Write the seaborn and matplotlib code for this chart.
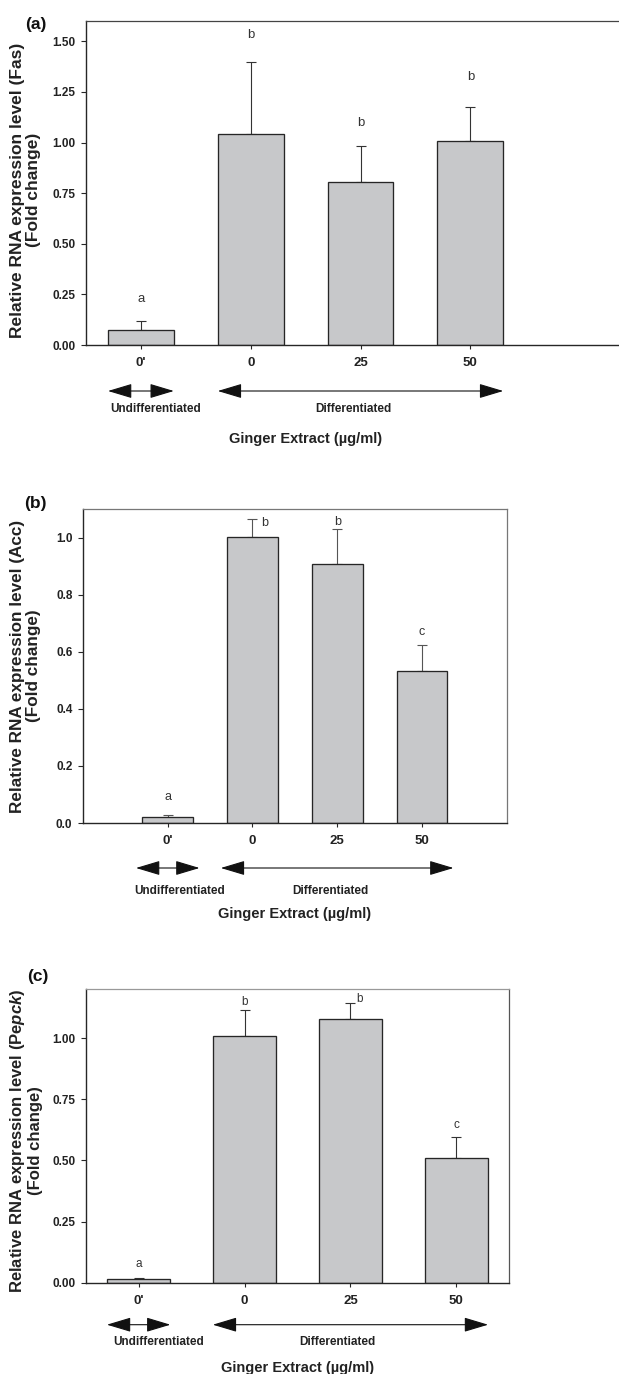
import matplotlib
matplotlib.use("Agg")
import matplotlib.pyplot as plt
import matplotlib.transforms as mtransforms
import seaborn as sns
import pandas as pd

# ---------------- data ----------------
categories = ["0'", "0", "25", "50"]

fas_mean = [0.074, 1.040, 0.807, 1.009]
fas_err = [0.043, 0.360, 0.177, 0.167]
fas_letters = ["a", "b", "b", "b"]

acc_mean = [0.021, 1.003, 0.908, 0.533]
acc_err = [0.006, 0.061, 0.123, 0.089]
acc_letters = ["a", "b", "b", "c"]

pepck_mean = [0.014, 1.009, 1.079, 0.511]
pepck_err = [0.006, 0.105, 0.067, 0.084]
pepck_letters = ["a", "b", "b", "c"]

group_labels = ["Undifferentiated", "Differentiated"]
xlabel_text = "Ginger Extract (\u00b5g/ml)"
ylabels = [
    "Relative RNA expression level (Fas)\n(Fold change)",
    "Relative RNA expression level (Acc)\n(Fold change)",
    "Relative RNA expression level (Pe$\\mathit{pck}$)\n(Fold change)",
]
panel_tags = ["(a)", "(b)", "(c)"]

# ---------------- style ----------------
sns.set_theme(style="white")
plt.rcParams["font.family"] = ["Liberation Sans", "DejaVu Sans"]
plt.rcParams["mathtext.fontset"] = "custom"
plt.rcParams["mathtext.it"] = "Liberation Sans:italic:bold"
plt.rcParams["mathtext.rm"] = "Liberation Sans:bold"
NARROW = ["Liberation Sans", "DejaVu Sans"]

W, H = 619, 1374
DPI = 100
fig = plt.figure(figsize=(W / DPI, H / DPI), dpi=DPI)
PT = 0.72  # points per pixel

BAR_COLOR = "#c7c8ca"
EDGE = "#262626"

panels = [
    dict(mean=fas_mean, err=fas_err, letters=fas_letters,
         box=(86, 21, 635, 345), xlim=(-0.5, 4.5), ylim=(0, 1.6),
         ticks=[0, 0.25, 0.5, 0.75, 1.0, 1.25, 1.5], fmt="{:.2f}",
         loff=[(0, 22), (0, 26), (0, 23), (0, 30)], lsize=9.5,
         arrows=[(-0.3, 0.3), (0.7, 3.3)], arrow_dy=46,
         gl_dy=64, gl_x=[0.138, 1.938], xl_dy=94,
         ylab_x=25.7, ylab_dy=7, ylab_size=12.5, tag=(36, 25),
         top="#444444", right=None, errc="#333333"),
    dict(mean=acc_mean, err=acc_err, letters=acc_letters,
         box=(83, 509, 506.7, 823), xlim=(-1, 4), ylim=(0, 1.1),
         ticks=[0, 0.2, 0.4, 0.6, 0.8, 1.0], fmt="{:.1f}",
         loff=[(0, 18), (11.7, -3.7), (0, 7), (0, 13)], lsize=9,
         arrows=[(-0.375, 0.375), (0.626, 3.372)], arrow_dy=45,
         gl_dy=68, gl_x=[0.145, 1.92], xl_dy=91,
         ylab_x=25.3, ylab_dy=0, ylab_size=12.3, tag=(35, 503),
         top="#777777", right="#777777", errc="#555555"),
    dict(mean=pepck_mean, err=pepck_err, letters=pepck_letters,
         box=(85.7, 989.3, 509.3, 1282.7), xlim=(-0.5, 3.5), ylim=(0, 1.2),
         ticks=[0, 0.25, 0.5, 0.75, 1.0], fmt="{:.2f}",
         loff=[(0, 14), (0, 8), (9, 4), (0, 12.6)], lsize=8.5,
         arrows=[(-0.3, 0.3), (0.7, 3.3)], arrow_dy=42,
         gl_dy=59, gl_x=[0.192, 1.876], xl_dy=85,
         ylab_x=25.8, ylab_dy=5, ylab_size=12, tag=(38, 976),
         top="#999999", right="#555555", errc="#333333"),
]

for i, p in enumerate(panels):
    l, t, r, b = p["box"]
    ax = fig.add_axes([l / W, 1 - b / H, (r - l) / W, (b - t) / H])
    df = pd.DataFrame({"dose": categories, "value": p["mean"]})
    sns.barplot(data=df, x="dose", y="value", ax=ax, color=BAR_COLOR,
                saturation=1, edgecolor=EDGE, linewidth=0.95, width=0.6,
                errorbar=None, zorder=2)
    xs = list(range(len(categories)))
    ax.errorbar(xs, p["mean"], yerr=[[0] * len(xs), p["err"]], fmt="none",
                ecolor=p["errc"], elinewidth=0.8, capsize=3.6, capthick=0.8,
                zorder=1)
    ax.set_xlim(*p["xlim"])
    ax.set_ylim(*p["ylim"])
    ax.set_yticks(p["ticks"])
    ax.set_yticklabels([p["fmt"].format(v) for v in p["ticks"]])
    ax.set_xlabel("")

    # spines
    for s in ["left", "bottom"]:
        ax.spines[s].set_color(EDGE)
        ax.spines[s].set_linewidth(1.0)
    ax.spines["top"].set_color(p["top"])
    ax.spines["top"].set_linewidth(0.9)
    if p["right"] is None:
        ax.spines["right"].set_visible(False)
    else:
        ax.spines["right"].set_color(p["right"])
        ax.spines["right"].set_linewidth(0.9)

    ax.tick_params(axis="y", direction="out", length=3.6, width=0.8,
                   color=EDGE, pad=4.0, left=True)
    ax.tick_params(axis="x", direction="out", length=3.0, width=0.8,
                   color=EDGE, pad=6.0, bottom=True)
    for lab in ax.get_yticklabels():
        lab.set_fontfamily(NARROW)
        lab.set_fontweight("bold")
        lab.set_fontsize(8.5)
        lab.set_color("#222222")
    for lab in ax.get_xticklabels():
        lab.set_fontfamily(NARROW)
        lab.set_fontweight("bold")
        lab.set_fontsize(9.5)
        lab.set_color("#222222")

    # y label
    ax.set_ylabel(ylabels[i], fontsize=p["ylab_size"], fontweight="bold",
                  linespacing=1.1, color="#222222")
    ax.yaxis.label.set_va("center")
    ax.yaxis.label.set_multialignment("center")
    axw = r - l
    axh = b - t
    ax.yaxis.set_label_coords((p["ylab_x"] - l) / axw, 0.5 - p["ylab_dy"] / axh)

    # significance letters
    for j, (m, e, let) in enumerate(zip(p["mean"], p["err"], p["letters"])):
        dx, dy = p["loff"][j]
        ax.annotate(let, xy=(j, m + e), xytext=(dx * PT, dy * PT),
                    textcoords="offset points", ha="center", va="center",
                    fontsize=p["lsize"], color="#333333")

    # group arrows below the axis
    xt = ax.get_xaxis_transform()
    arrow_tr = mtransforms.offset_copy(xt, fig=fig, y=-p["arrow_dy"] * PT,
                                       units="points")
    for (x0, x1) in p["arrows"]:
        ax.annotate("", xy=(x1, 0), xytext=(x0, 0), xycoords=arrow_tr,
                    textcoords=arrow_tr, annotation_clip=False,
                    arrowprops=dict(arrowstyle="<|-|>,head_length=1.5,head_width=0.45",
                                    mutation_scale=10, lw=0.8, color="#111111",
                                    shrinkA=0, shrinkB=0))
    gl_tr = mtransforms.offset_copy(xt, fig=fig, y=-p["gl_dy"] * PT, units="points")
    for gx, gtxt in zip(p["gl_x"], group_labels):
        ax.text(gx, 0, gtxt, transform=gl_tr, ha="center", va="center",
                fontsize=8.5, fontweight="bold", family=NARROW,
                color="#222222", clip_on=False)
    xl_tr = mtransforms.offset_copy(xt, fig=fig, y=-p["xl_dy"] * PT, units="points")
    ax.text(1.5, 0, xlabel_text, transform=xl_tr, ha="center", va="center",
            fontsize=10.5, fontweight="bold", family=NARROW, color="#222222",
            clip_on=False)

    # panel tag
    tx, ty = p["tag"]
    fig.text(tx / W, 1 - ty / H, panel_tags[i], ha="center", va="center",
             fontsize=12.5, fontweight="bold", color="#111111")

fig.savefig("out.png", dpi=DPI)
